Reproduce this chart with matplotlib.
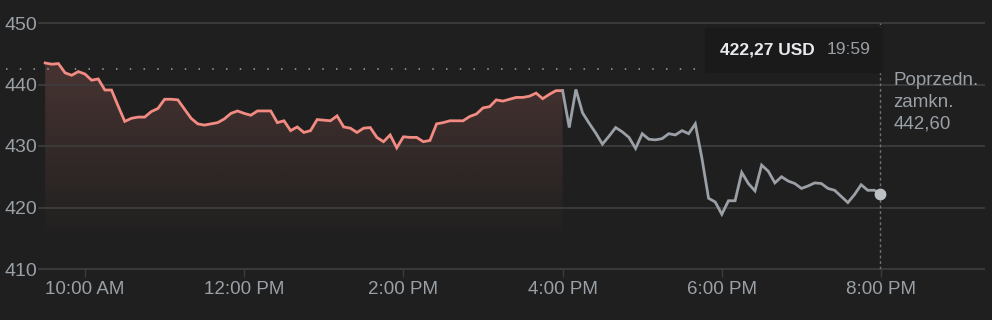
import numpy as np
import matplotlib
matplotlib.use("Agg")
import matplotlib.pyplot as plt
from matplotlib.patches import Rectangle

plt.rcParams['font.family'] = ['Liberation Sans', 'DejaVu Sans']

# minutes since midnight, 5-minute bars
reg_start = 9 * 60 + 30
reg_vals = [443.5, 443.3, 443.4, 441.9, 441.5, 442.1, 441.7, 440.7, 440.9, 439.1,
            439.1, 436.5, 434.0, 434.5, 434.7, 434.7, 435.6, 436.1, 437.6, 437.6,
            437.5, 436.0, 434.5, 433.6, 433.4, 433.6, 433.8, 434.4, 435.3, 435.7,
            435.3, 435.0, 435.7, 435.7, 435.7, 433.8, 434.1, 432.5, 433.1, 432.2,
            432.5, 434.3, 434.2, 434.1, 434.9, 433.1, 432.9, 432.2, 432.9, 433.0,
            431.4, 430.7, 431.8, 429.7, 431.5, 431.4, 431.4, 430.7, 430.9, 433.6,
            433.8, 434.1, 434.1, 434.1, 434.8, 435.2, 436.2, 436.4, 437.5, 437.3,
            437.6, 437.9, 437.9, 438.1, 438.6, 437.7, 438.4, 439.0, 439.0]
post_vals = [433.0, 439.2, 435.4, 433.7, 432.1, 430.3, 431.6, 433.0, 432.3, 431.4,
             429.6, 432.0, 431.1, 431.0, 431.2, 432.0, 431.8, 432.5, 432.0, 433.6,
             428.0, 421.5, 420.9, 418.9, 421.1, 421.1, 425.7, 423.9, 422.7, 426.9,
             425.9, 424.0, 425.0, 424.3, 423.9, 423.1, 423.5, 424.0, 423.9, 423.1,
             422.8, 421.8, 420.8, 422.1, 423.7, 422.8, 422.8, 422.27]
last_time = 19 * 60 + 59
prev_close = 442.60

tick_times = [600, 720, 840, 960, 1080, 1200]
tick_labels = ["10:00 AM", "12:00 PM", "2:00 PM", "4:00 PM", "6:00 PM", "8:00 PM"]
y_ticks = [410, 420, 430, 440, 450]

reg_t = reg_start + 5 * np.arange(len(reg_vals))
post_t = np.append(reg_t[-1] + 5 * np.arange(1, len(post_vals)), last_time)

BG = "#1f1f1f"
GRID = "#3c3c3c"
TXT = "#9aa0a6"
RED = "#f28b82"
GRAY = "#9aa0a6"

W, H = 992, 320
fig = plt.figure(figsize=(W / 100, H / 100), dpi=100, facecolor=BG)
ax = fig.add_axes([39 / W, 1 - 269 / H, 945 / W, 246 / H])
ax.set_facecolor(BG)
ax.set_xlim(565.35, 1277.6)
ax.set_ylim(410, 450)

# gradient fill under regular session
grad_lo, grad_hi = 414, 443
ny = 200
yy = np.linspace(410, 450, ny)
alpha = np.clip((yy - grad_lo) / (grad_hi - grad_lo), 0, 1.2) * 0.19
img = np.zeros((ny, 2, 4))
img[..., 0] = 242 / 255
img[..., 1] = 139 / 255
img[..., 2] = 130 / 255
img[..., 3] = alpha[:, None]
poly = ax.fill_between(reg_t, reg_vals, 410, color="none", lw=0)
im = ax.imshow(img, extent=[reg_t[0], reg_t[-1], 410, 450], origin="lower",
               aspect="auto", zorder=1, interpolation="bilinear")
im.set_clip_path(poly.get_paths()[0], transform=ax.transData)

# previous close dotted line
x0, x1 = ax.get_xlim()
ax.axhline(prev_close, xmin=-33 / 945, xmax=(last_time - x0) / (x1 - x0),
           color=GRAY, lw=1.1, ls=(0, (1, 8)), clip_on=False, zorder=2)
ax.axvline(last_time, color="#6f7378", lw=1, ls=(0, (2, 2)), zorder=2)

ax.plot(reg_t, reg_vals, color=RED, lw=2, zorder=4, solid_joinstyle="miter")
ax.plot(np.append(reg_t[-1], post_t), np.append(reg_vals[-1], post_vals),
        color=GRAY, lw=2, zorder=4, solid_joinstyle="miter")
ax.plot(last_time, post_vals[-1], "o", color="#bdc1c6", ms=8.5, zorder=5, mec="none")

for s in ax.spines.values():
    s.set_visible(False)
ax.set_yticks(y_ticks)
ax.set_xticks(tick_times)
ax.set_xticklabels(tick_labels)
ax.grid(axis="y", color=GRID, lw=1.3)
for gl in ax.get_ygridlines():
    gl.set_clip_on(False)
ax.tick_params(axis="y", length=0, pad=1.5, labelsize=14, labelcolor=TXT)
ax.tick_params(axis="x", length=6, width=1, color=GRID, pad=3, labelsize=13.5,
               labelcolor=TXT)

ax.annotate("Poprzedn.\nzamkn.\n" + f"{prev_close:.2f}".replace(".", ","),
            xy=(last_time, prev_close), xytext=(10, -2.5), textcoords="offset points",
            ha="left", va="top", color=TXT, fontsize=13.5, linespacing=1.38,
            annotation_clip=False)

# tooltip
fig.patches.append(Rectangle((705 / W, 1 - 72 / H), 177 / W, 44 / H,
                             transform=fig.transFigure, color="#1a1a1a", zorder=3))
fig.text(815 / W, 1 - 50 / H, f"{post_vals[-1]:.2f}".replace(".", ",") + " USD",
         ha="right", va="center", color="#e8eaed", fontsize=12.5, fontweight="bold",
         zorder=4)
fig.text(871 / W, 1 - 50 / H, "19:59", ha="right", va="center", color=TXT,
         fontsize=12.5, zorder=4)

fig.savefig("out.png", dpi=100, facecolor=BG)
